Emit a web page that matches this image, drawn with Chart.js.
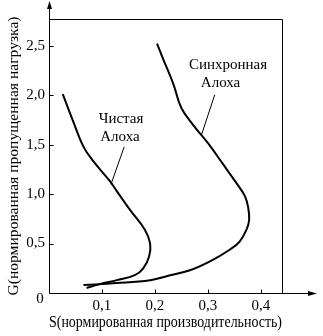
<!DOCTYPE html>
<html>
<head>
<meta charset="utf-8">
<script src="https://cdn.jsdelivr.net/npm/chart.js"></script>
<style>
  body { margin: 0; background: #fff; }
  canvas { display: block; }
</style>
</head>
<body>
<canvas id="chart" width="323" height="336"></canvas>
<script>
// pure Aloha, traced from top to bottom
const pureS = [0.026, 0.046, 0.065, 0.084, 0.115, 0.128, 0.153, 0.181, 0.191, 0.189, 0.178, 0.162, 0.128, 0.096, 0.071];
const pureG = [2.01, 1.73, 1.48, 1.33, 1.13, 1.03, 0.84, 0.64, 0.50, 0.37, 0.25, 0.18, 0.13, 0.09, 0.05];

// slotted (synchronous) Aloha
const syncS = [0.204, 0.216, 0.235, 0.250, 0.272, 0.301, 0.329, 0.358, 0.370, 0.376, 0.378, 0.373, 0.360, 0.342, 0.304, 0.266, 0.222, 0.191, 0.128, 0.065];
const syncG = [2.52, 2.36, 2.11, 1.87, 1.70, 1.51, 1.30, 1.08, 0.98, 0.87, 0.74, 0.64, 0.52, 0.44, 0.32, 0.23, 0.17, 0.13, 0.10, 0.08];

const xTicks = [0.1, 0.2, 0.3, 0.4];
const yTicks = [0.5, 1, 1.5, 2, 2.5];
const xTitle = 'S(нормированная производительность)';
const yTitle = 'G(нормированная пропущенная нагрузка)';
const pureLabel = ['Чистая', 'Алоха'];
const syncLabel = ['Синхронная', 'Алоха'];

const fontFamily = 'Liberation Serif';
Chart.defaults.font.family = fontFamily;
Chart.defaults.font.size = 15;
Chart.defaults.color = '#000';

const comma = v => v.toFixed(1).replace('.', ',');
const toPoints = (s, g) => s.map((v, i) => ({x: v, y: g[i]}));

// label positions (data units) and leader lines
const notes = [
  {lines: pureLabel, at: [[0.136, 1.72], [0.134, 1.54]], leader: [[0.142, 1.478], [0.117, 1.098]]},
  {lines: syncLabel, at: [[0.338, 2.26], [0.324, 2.085]], leader: [[0.313, 2.004], [0.288, 1.599]]}
];

const frame = {
  id: 'frame',
  afterDraw(chart) {
    const {ctx, chartArea: a, scales: {x, y}} = chart;
    const L = a.left + 0.5, B = a.bottom + 0.5, T = a.top + 0.5, R = a.right + 0.5;
    ctx.save();
    ctx.strokeStyle = '#000';
    ctx.fillStyle = '#000';
    ctx.lineWidth = 1;
    ctx.beginPath();
    ctx.moveTo(L, 8); ctx.lineTo(L, B); ctx.lineTo(310, B);
    ctx.moveTo(L, T); ctx.lineTo(R, T); ctx.lineTo(R, B);
    xTicks.forEach(v => {
      const px = Math.round(x.getPixelForValue(v)) + 0.5;
      ctx.moveTo(px, B); ctx.lineTo(px, B - 4);
    });
    yTicks.forEach(v => {
      const py = Math.round(y.getPixelForValue(v)) + 0.5;
      ctx.moveTo(L, py); ctx.lineTo(L + 4, py);
    });
    ctx.stroke();

    // arrow heads
    ctx.beginPath();
    ctx.moveTo(L, 1); ctx.lineTo(L - 2.5, 9); ctx.lineTo(L + 2.5, 9); ctx.closePath();
    ctx.moveTo(317, B); ctx.lineTo(308, B - 2.5); ctx.lineTo(308, B + 2.5); ctx.closePath();
    ctx.fill();

    ctx.font = '15px "' + fontFamily + '"';
    ctx.textAlign = 'center';
    ctx.textBaseline = 'middle';
    ctx.fillText('0', a.left - 9, a.bottom + 6);

    notes.forEach(n => {
      ctx.textBaseline = 'alphabetic';
      n.lines.forEach((t, i) => {
        ctx.fillText(t, x.getPixelForValue(n.at[i][0]), y.getPixelForValue(n.at[i][1]));
      });
      ctx.beginPath();
      ctx.moveTo(x.getPixelForValue(n.leader[0][0]), y.getPixelForValue(n.leader[0][1]));
      ctx.lineTo(x.getPixelForValue(n.leader[1][0]), y.getPixelForValue(n.leader[1][1]));
      ctx.stroke();
    });
    ctx.restore();
  }
};

const lineStyle = {
  borderColor: '#000',
  borderWidth: 2,
  pointRadius: 0,
  fill: false,
  tension: 0.4
};

new Chart(document.getElementById('chart'), {
  type: 'line',
  data: {
    datasets: [
      {label: 'Чистая Алоха', data: toPoints(pureS, pureG), ...lineStyle},
      {label: 'Синхронная Алоха', data: toPoints(syncS, syncG), ...lineStyle}
    ]
  },
  options: {
    responsive: false,
    animation: false,
    devicePixelRatio: 1,
    layout: {padding: {top: 19, right: 41, left: 0, bottom: 0}},
    plugins: {legend: {display: false}, tooltip: {enabled: false}},
    scales: {
      x: {
        type: 'linear',
        min: 0,
        max: 0.44,
        grid: {display: false, drawTicks: false},
        border: {display: false},
        afterBuildTicks: s => { s.ticks = xTicks.map(v => ({value: v})); },
        afterFit: s => { s.height = 43; },
        ticks: {padding: 4, maxRotation: 0, callback: v => comma(v)},
        title: {display: true, text: xTitle, font: {size: 16}, padding: {top: 0, bottom: 4}}
      },
      y: {
        type: 'linear',
        min: 0,
        max: 2.77,
        grid: {display: false, drawTicks: false},
        border: {display: false},
        afterBuildTicks: s => { s.ticks = yTicks.map(v => ({value: v})); },
        afterFit: s => { s.width = 49; },
        ticks: {padding: 4, callback: v => comma(v)},
        title: {display: true, text: yTitle, font: {size: 15.6}, padding: {top: 5, bottom: 0}}
      }
    }
  },
  plugins: [frame]
});
</script>
</body>
</html>
